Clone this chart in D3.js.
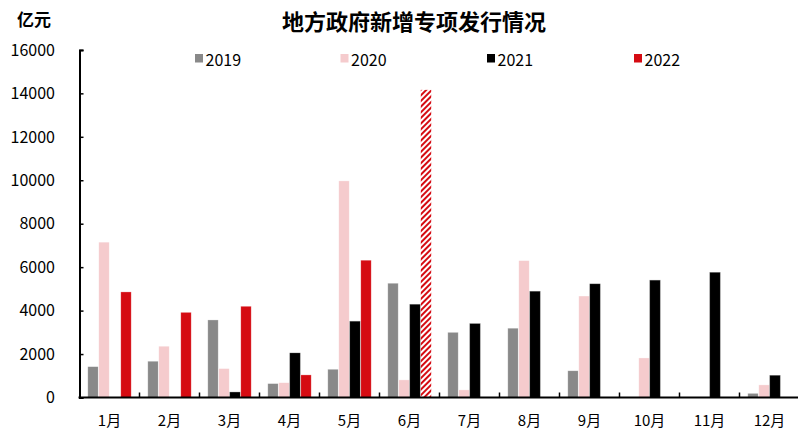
<!DOCTYPE html>
<html><head><meta charset="utf-8">
<script src="https://cdn.jsdelivr.net/npm/d3@7"></script>
<style>body{margin:0;background:#fff}svg{display:block}text{font-family:"Noto Sans CJK SC","Noto Sans",sans-serif}</style>
</head><body><svg id="c" width="798" height="429"></svg>
<script>
const months = ["1月","2月","3月","4月","5月","6月","7月","8月","9月","10月","11月","12月"];
const seriesNames = ["2019","2020","2021","2022"];
const s2019 = [1420,1670,3570,640,1300,5260,3000,3190,1230,0,0,190];
const s2020 = [7150,2360,1330,680,9970,810,350,6300,4670,1820,0,580];
const s2021 = [0,0,250,2050,3510,4290,3400,4890,5230,5400,5760,1020];
const s2022 = [4860,3920,4200,1040,6320,14160,null,null,null,null,null,null];
const hatchedIndex = [5]; // 2022年6月 (预计)
const yTicks = [0,2000,4000,6000,8000,10000,12000,14000,16000];
const colors = ["#898989","#f5cbcd","#000000","#d50b12"];
const series = [s2019,s2020,s2021,s2022];

const svg = d3.select("#c");
const defs = svg.append("defs");
const pat = defs.append("pattern").attr("id","hatch").attr("patternUnits","userSpaceOnUse")
  .attr("width",4).attr("height",4).attr("patternTransform","rotate(45)");
pat.append("rect").attr("width",4).attr("height",4).attr("fill","#fff");
pat.append("rect").attr("x",0).attr("width",2).attr("height",4).attr("fill","#d50b12");

const x0 = 79.5, x1 = 799.5, yB = 397.5, yT = 49.9;
const x = d3.scaleBand().domain(months).range([x0,x1]).paddingInner(0).paddingOuter(0);
const xs = d3.scaleBand().domain(seriesNames).range([0,x.bandwidth()]).paddingOuter(0.727).paddingInner(0);
const y = d3.scaleLinear().domain([0,16000]).range([yB,yT]);

// bars
series.forEach((arr,si)=>{
  svg.append("g").selectAll("rect").data(arr.map((v,i)=>({v,i})).filter(d=>d.v!=null && d.v>0))
    .join("rect")
    .attr("x",d=>x(months[d.i])+xs(seriesNames[si])+0.3)
    .attr("width",xs.bandwidth()-0.6)
    .attr("y",d=>y(d.v))
    .attr("height",d=>yB-y(d.v))
    .attr("fill",d=> (si===3 && hatchedIndex.includes(d.i)) ? "url(#hatch)" : colors[si])
    .attr("stroke",d=> (si===3 && hatchedIndex.includes(d.i)) ? "none" : (si===2?"#777":"#fff"))
    .attr("stroke-opacity",0.5).attr("stroke-width",0.6);
});

// y axis
const ya = svg.append("g").attr("transform",`translate(${x0},0)`)
  .call(d3.axisRight(y).tickValues(yTicks).tickSize(4).tickFormat(""));
ya.select(".domain").attr("stroke","#000").attr("stroke-width",2);
ya.selectAll(".tick line").attr("stroke","#000").attr("stroke-width",1.5);
svg.append("g").selectAll("text").data(yTicks).join("text")
  .attr("x",55).attr("y",d=>y(d)).attr("dy","0.36em").attr("text-anchor","end")
  .attr("font-size",16).attr("fill","#000").text(d=>d);

// x axis
svg.append("line").attr("x1",x0-1).attr("x2",x1).attr("y1",yB).attr("y2",yB).attr("stroke","#000").attr("stroke-width",2);
svg.append("g").selectAll("line").data(months.slice(1)).join("line")
  .attr("x1",d=>x(d)).attr("x2",d=>x(d)).attr("y1",yB).attr("y2",yB-5)
  .attr("stroke","#000").attr("stroke-width",1.5);
svg.append("g").selectAll("text").data(months).join("text")
  .attr("x",d=>x(d)+x.bandwidth()/2).attr("y",426).attr("text-anchor","middle")
  .attr("font-size",15).attr("fill","#000").text(d=>d);

// title & unit
svg.append("text").attr("x",414).attr("y",29.5).attr("text-anchor","middle")
  .attr("font-size",22).attr("font-weight","bold").text("地方政府新增专项发行情况");
svg.append("text").attr("x",17).attr("y",26).attr("font-size",17).attr("font-weight","bold").text("亿元");

// legend
const legX = [195,340.5,487,634];
const lg = svg.append("g").selectAll("g").data(seriesNames).join("g")
  .attr("transform",(d,i)=>`translate(${legX[i]},54)`);
lg.append("rect").attr("width",8).attr("height",8.5).attr("fill",(d,i)=>colors[i]);
lg.append("text").attr("x",10.5).attr("y",11.8).attr("font-size",16).text(d=>d);
</script></body></html>
